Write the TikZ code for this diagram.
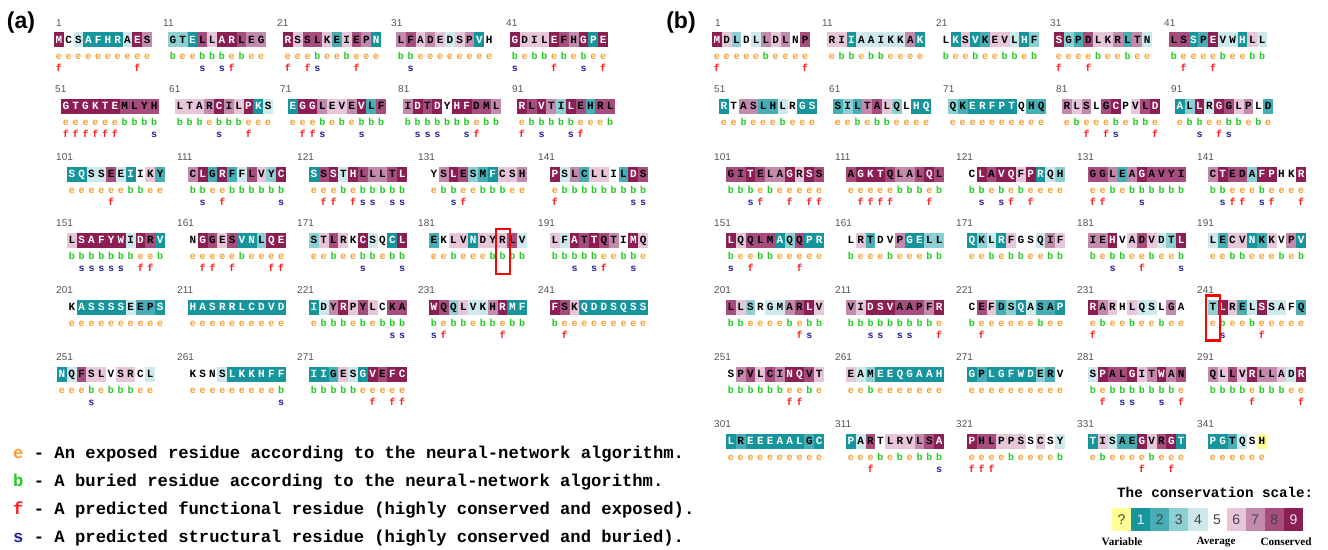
\documentclass[tikz,border=0pt]{standalone}
\usepackage{fontspec}
\setmainfont{Liberation Serif}
\newfontfamily\monofam{Liberation Mono}
\newfontfamily\sansfam{Liberation Sans}

% conservation grades 1 (variable) .. 9 (conserved), Y = insufficient data
\definecolor{g1}{HTML}{17959C}
\definecolor{g2}{HTML}{47AEB5}
\definecolor{g3}{HTML}{8DD0D4}
\definecolor{g4}{HTML}{CDE9EC}
\definecolor{g5}{HTML}{FFFFFF}
\definecolor{g6}{HTML}{E6C6D8}
\definecolor{g7}{HTML}{C48AAE}
\definecolor{g8}{HTML}{A64D7E}
\definecolor{g9}{HTML}{8B1E52}
\definecolor{gY}{HTML}{FFFF96}
% letter colour on each grade
\colorlet{t1}{white}\colorlet{t2}{black}\colorlet{t3}{black}\colorlet{t4}{black}
\colorlet{t5}{black}\colorlet{t6}{black}\colorlet{t7}{black}\colorlet{t8}{black}
\colorlet{t9}{white}\colorlet{tY}{black}
% digit colour on the scale
\definecolor{s1}{HTML}{E4F2F2}\definecolor{s9}{HTML}{F0E0E8}
\definecolor{sdark}{HTML}{444444}
\colorlet{s2}{sdark}\colorlet{s3}{sdark}\colorlet{s4}{sdark}\colorlet{s5}{sdark}
\colorlet{s6}{sdark}\colorlet{s7}{sdark}\colorlet{s8}{sdark}\colorlet{sY}{sdark}
% exposed / buried / functional / structural marks
\definecolor{ce}{HTML}{F7A030}
\definecolor{cb}{HTML}{22CC22}
\definecolor{cf}{HTML}{FF1A1A}
\definecolor{cs}{HTML}{22229A}
\definecolor{numgray}{HTML}{555555}

\tikzset{
  resl/.style={font=\monofam\bfseries\fontsize{11}{11}\selectfont,inner sep=0pt,
    text height=6.6pt,text depth=0pt,anchor=center},
  markl/.style={font=\monofam\bfseries\fontsize{10}{10}\selectfont,inner sep=0pt,
    text height=5.2pt,text depth=0pt,anchor=center},
  numlab/.style={font=\sansfam\fontsize{10}{10}\selectfont,text=numgray,inner sep=0pt,
    text height=7.2pt,text depth=0pt,anchor=west},
  panellab/.style={font=\sansfam\bfseries\fontsize{23}{23}\selectfont,inner sep=0pt},
  legline/.style={font=\monofam\bfseries\fontsize{17.2}{17.2}\selectfont,inner sep=0pt,
    text height=10pt,text depth=0pt,anchor=west},
  hilite/.style={draw=red,line width=2.2pt},
}

% one residue: letter, grade, e/b, f/s/-
\def\resitem#1#2#3#4\relax{%
  \pgfmathsetmacro\cx{\bx+\i*9.8+4.9}%
  \fill[g#2] (\cx-5.0,\by+9.5) rectangle (\cx+5.0,\by+24.5);%
  \node[resl,text=t#2] (\bid-\i) at (\cx,\by+17) {#1};%
  \node[markl,text=c#3] (\bid-eb\i) at (\cx,\by+34) {#3};%
  \if#4-\else\node[markl,text=c#4] (\bid-fs\i) at (\cx,\by+46) {#4};\fi
}
% a block of ten: id, label x, first cell x, row y, number, residues
\newcommand\blk[6]{%
  \node[numlab] (#1) at (#2,#4) {#5};%
  \def\bid{#1}\def\bx{#3}\def\by{#4}%
  \foreach \t [count=\i from 0] in {#6} {\expandafter\resitem\t\relax}%
}

\begin{document}
\begin{tikzpicture}[x=1pt,y=-1pt]
\fill[white] (0,0) rectangle (1328,549);
\useasboundingbox (0,0) rectangle (1328,549);

\node[panellab] (pa) at (21,23) {(a)};
\node[panellab] (pb) at (681,23) {(b)};

% ---------------- panel (a) ----------------
\blk{a1}{56}{54}{22.7}{1}{M9ef,C5e-,S4e-,A1e-,F1e-,H1e-,R1e-,A4e-,E9ef,S7e-}
\blk{a11}{163}{168}{22.7}{11}{G3b-,T3e-,E1e-,L8bs,L6b-,A9bs,R9ef,L8b-,E7e-,G7e-}
\blk{a21}{277}{283}{22.7}{21}{R9ef,S6e-,S8ef,L8bs,K6e-,E2e-,I6b-,E8ef,P7e-,N1e-}
\blk{a31}{391}{396}{22.7}{31}{L7b-,F8bs,A6e-,D7e-,E6e-,D4e-,S6e-,P7e-,V1e-,H5e-}
\blk{a41}{506}{510}{22.7}{41}{G9bs,D6e-,I6b-,L6b-,E9ef,F8b-,H7e-,G9bs,P1e-,E9ef}

\blk{a51}{55}{61}{89.3}{51}{G9ef,T9ef,G9ef,K9ef,T9ef,E9ef,M8b-,L8b-,Y8b-,H8bs}
\blk{a61}{169}{175}{89.3}{61}{L6b-,T6b-,A6b-,R7e-,C9bs,I7b-,L6b-,P9ef,K1e-,S4e-}
\blk{a71}{280}{288}{89.3}{71}{E1e-,G9ef,G9ef,L7bs,E6e-,V6b-,E7e-,V9bs,L2b-,F8b-}
\blk{a81}{398}{403}{89.3}{81}{I7b-,D9bs,T8bs,D9bs,Y5b-,H9b-,F9bs,D8ef,M8b-,L7b-}
\blk{a91}{512}{517}{89.3}{91}{R9ef,L8b-,V9bs,T7b-,I3b-,L9bs,E8ef,H2e-,R8e-,L8b-}

\blk{a101}{56}{67}{157}{101}{S1e-,Q1e-,S4e-,S4e-,E8ef,E4e-,I1b-,I5b-,K6e-,Y2e-}
\blk{a111}{177}{188}{157}{111}{C7b-,L9bs,G2e-,R9ef,F2b-,F4b-,L8b-,V6b-,Y3b-,C9bs}
\blk{a121}{297}{309}{157}{121}{S1e-,S8ef,S9ef,T4b-,H9ef,L8bs,L7bs,L7b-,T8bs,L9bs}
\blk{a131}{418}{429}{157}{131}{Y5e-,S7b-,L9bs,E8ef,S3e-,M2b-,F1b-,C6b-,S6e-,H7e-}
\blk{a141}{538}{550}{157}{141}{P9ef,S4b-,L7b-,C2b-,L6b-,L6b-,I5b-,L2b-,D9bs,S8bs}

\blk{a151}{56}{67}{223.3}{151}{L6b-,S9bs,A9bs,F9bs,Y9bs,W9bs,I4b-,D9ef,R8ef,V1b-}
\blk{a161}{177}{188}{223.3}{161}{N5e-,G9ef,G8ef,E6e-,S8ef,V1b-,N1e-,L3e-,Q9ef,E9ef}
\blk{a171}{297}{309}{223.3}{171}{S3e-,T6e-,L8b-,R6e-,K5e-,C9bs,S4b-,Q5e-,C1b-,L9bs}
\blk{a181}{418}{429}{223.3}{181}{E2e-,K5e-,L6b-,V6e-,N1e-,D6e-,Y6b-,R6b-,L8b-,V4b-}
\blk{a191}{538}{550}{223.3}{191}{L6b-,F4b-,A9bs,T8b-,T9bs,Q8ef,T7e-,I5b-,M9bs,Q6e-}

\blk{a201}{56}{67}{290}{201}{K5e-,A1e-,S1e-,S1e-,S1e-,S1e-,E4e-,E2e-,P2e-,S1e-}
\blk{a211}{177}{188}{290}{211}{H1e-,A1e-,S1e-,R1e-,R1e-,L1e-,C1e-,D1e-,V1e-,D1e-}
\blk{a221}{297}{309}{290}{221}{I1e-,D4b-,Y7b-,R9b-,P6e-,Y8b-,L6e-,C5b-,K8bs,A8bs}
\blk{a231}{418}{429}{290}{231}{W9bs,Q8ef,Q3b-,L6b-,V4e-,K4b-,H7b-,R9ef,M1b-,F1b-}
\blk{a241}{538}{550}{290}{241}{F9b-,S8ef,K6e-,Q1e-,D1e-,D1e-,S1e-,Q1e-,S1e-,S1e-}

\blk{a251}{56}{57}{357}{251}{N1e-,Q4e-,F8e-,S6bs,L6e-,V5b-,S6b-,R6b-,C5e-,L4e-}
\blk{a261}{177}{188}{357}{261}{K5e-,S5e-,N5e-,S4e-,L1e-,K1e-,K1e-,H1e-,F1e-,F1bs}
\blk{a271}{297}{309}{357}{271}{I1b-,I1b-,G2b-,E6b-,S4b-,G1e-,V9ef,E8e-,F9ef,C9ef}

\draw[hilite] (496,228.8) rectangle (510,273.8);

% legend
\node[legline] (leg-e) at (13,453) {\textcolor{ce}{e} - An exposed residue according to the neural-network algorithm.};
\node[legline] (leg-b) at (13,481) {\textcolor{cb}{b} - A buried residue according to the neural-network algorithm.};
\node[legline] (leg-f) at (13,509) {\textcolor{cf}{f} - A predicted functional residue (highly conserved and exposed).};
\node[legline] (leg-s) at (13,537) {\textcolor{cs}{s} - A predicted structural residue (highly conserved and buried).};

% ---------------- panel (b) ----------------
\blk{b1}{715}{712}{22.7}{1}{M9ef,D6e-,L3e-,D5e-,L4e-,L7b-,D6e-,L7e-,N5e-,P8ef}
\blk{b11}{822}{827}{22.7}{11}{R6e-,I6b-,I1b-,A4e-,A4b-,I4b-,K4e-,K4e-,A7e-,K1e-}
\blk{b21}{936}{941}{22.7}{21}{L5b-,K1e-,S6e-,V1b-,K2e-,E6e-,V6b-,L4b-,H1e-,F3b-}
\blk{b31}{1050}{1054}{22.7}{31}{S9ef,G3e-,P2e-,D8ef,L6b-,K6e-,R7e-,L2b-,T7e-,N4e-}
\blk{b41}{1164}{1169}{22.7}{41}{L8b-,S8ef,S1e-,P2e-,E9ef,V4b-,W4e-,H1e-,L6b-,L4b-}

\blk{b51}{714}{719}{89.3}{51}{R1e-,T5e-,A7b-,S7e-,L2e-,H2e-,L4b-,R5e-,G1e-,S1e-}
\blk{b61}{829}{833}{89.3}{61}{S2e-,I3e-,L2b-,T7e-,A8b-,L6b-,Q3e-,L5e-,H1e-,Q1e-}
\blk{b71}{943}{948}{89.3}{71}{Q3e-,K2e-,E1e-,R1e-,F1e-,P1e-,T1e-,Q5e-,H2e-,Q2e-}
\blk{b81}{1056}{1062}{89.3}{81}{R7e-,L6b-,S7ef,L5e-,G8ef,C9bs,P5e-,V6b-,L8b-,D9ef}
\blk{b91}{1171}{1175}{89.3}{91}{A1e-,L3b-,L9bs,R4e-,G9ef,G8bs,L6b-,P7e-,L5b-,D2e-}

\blk{b101}{714}{726}{157}{101}{G8b-,I8b-,T9bs,E8ef,L7b-,A7e-,G9ef,R6e-,S9ef,S8ef}
\blk{b111}{835}{846}{157}{111}{A8e-,G9ef,K9ef,T9ef,Q8ef,L7b-,A7b-,L8b-,Q9ef,L8b-}
\blk{b121}{956}{967}{157}{121}{C5b-,L9bs,A8e-,V9bs,Q9ef,F6b-,P9ef,R1e-,Q4e-,H3e-}
\blk{b131}{1077}{1088}{157}{131}{G8ef,G8ef,L7b-,E2e-,A7b-,G9bs,A8b-,V8b-,Y8b-,I8b-}
\blk{b141}{1197}{1208}{157}{141}{C7b-,T9bs,E8ef,D8ef,A3e-,F9bs,P9ef,H5e-,K5e-,R9ef}

\blk{b151}{714}{726}{223.3}{151}{L9bs,Q6e-,Q8ef,L8b-,M8b-,A1e-,Q3e-,Q8ef,P1e-,R1e-}
\blk{b161}{835}{846}{223.3}{161}{L5b-,R6e-,T2e-,D5e-,V5b-,P7e-,G1e-,E1e-,L3b-,L3b-}
\blk{b171}{956}{967}{223.3}{171}{Q1e-,K3e-,L4b-,R1e-,F6b-,G5b-,S5e-,Q4e-,I7b-,F6b-}
\blk{b181}{1077}{1088}{223.3}{181}{I7b-,E7e-,H9bs,V5b-,A6e-,D8ef,V6b-,D4e-,T3e-,L9bs}
\blk{b191}{1197}{1208}{223.3}{191}{L4e-,E2e-,C6b-,V6b-,N1e-,K2e-,K6e-,V5b-,P7e-,V1b-}

\blk{b201}{714}{726}{290}{201}{L8b-,L6b-,S3e-,R5e-,G4e-,M4e-,A7b-,R8ef,L9bs,V6b-}
\blk{b211}{835}{846}{290}{211}{V7b-,I6b-,D9bs,S9bs,V9b-,A8bs,A8bs,P8b-,F7b-,R9ef}
\blk{b221}{956}{967}{290}{221}{C5b-,E8ef,F6e-,D2e-,S3e-,Q1e-,A4e-,S2b-,A2e-,P1e-}
\blk{b231}{1077}{1088}{290}{231}{R9ef,A7b-,R6e-,H5e-,L6b-,Q4e-,S4e-,L5b-,G7e-,A5e-}
\blk{b241}{1197}{1208}{290}{241}{T3e-,L9bs,R6e-,E2e-,L4b-,S9ef,S4e-,A4e-,F5e-,Q2e-}

\blk{b251}{714}{726}{357}{251}{S5b-,P7b-,V8b-,L6b-,C8b-,I7b-,N9ef,Q9ef,V8b-,T6e-}
\blk{b261}{835}{846}{357}{261}{E6e-,A4e-,M3b-,E1e-,E1e-,Q1e-,G1e-,A1e-,A1e-,H1e-}
\blk{b271}{956}{967}{357}{271}{G1e-,P2e-,L1e-,G1e-,F1e-,W1e-,D1e-,E3e-,R2e-,V5e-}
\blk{b281}{1077}{1088}{357}{281}{S4b-,P9ef,A8b-,L8bs,G9bs,I6b-,T7b-,W9bs,A7b-,N8ef}
\blk{b291}{1197}{1208}{357}{291}{Q7b-,L6b-,L8b-,V6b-,R9ef,L7b-,L7b-,A6b-,D4e-,R9ef}

\blk{b301}{714}{726}{424}{301}{L1e-,R2e-,E1e-,E1e-,E1e-,A1e-,A1e-,L1e-,G2e-,C1e-}
\blk{b311}{835}{846}{424}{311}{P1e-,A4e-,R8ef,T5b-,L6e-,R6b-,V6e-,L7b-,S8b-,A9bs}
\blk{b321}{956}{967}{424}{321}{P9ef,H8ef,L8ef,P6e-,P6b-,S6e-,S5e-,C6e-,S5e-,Y4b-}
\blk{b331}{1077}{1088}{424}{331}{T1e-,I6b-,S4e-,A2e-,E2e-,G9ef,V6b-,R8e-,G9ef,T1e-}
\blk{b341}{1197}{1208}{424}{341}{P1e-,G1e-,T2e-,Q4e-,S5e-,HYe-}

\draw[hilite] (1206,295.5) rectangle (1219.6,340.5);

% conservation scale
\node[font=\monofam\bfseries\fontsize{14.2}{14.2}\selectfont,inner sep=0pt,anchor=west]
  (scaletitle) at (1117,492) {The conservation scale:};
\foreach \k/\c [count=\j from 0] in {?/Y,1/1,2/2,3/3,4/4,5/5,6/6,7/7,8/8,9/9} {
  \fill[g\c] (1112+\j*19.1,508) rectangle ++(19.2,23);
  \node[font=\sansfam\fontsize{14}{14}\selectfont,text=s\c,inner sep=0pt]
    (sc\j) at (1112+\j*19.1+9.55,519.5) {\k};
}
\node[font=\bfseries\fontsize{11.2}{11.2}\selectfont,inner sep=0pt] (var) at (1122,542) {Variable};
\node[font=\bfseries\fontsize{11.2}{11.2}\selectfont,inner sep=0pt] (avg) at (1216,542) {Average};
\node[font=\bfseries\fontsize{11.2}{11.2}\selectfont,inner sep=0pt] (con) at (1286,542) {Conserved};
\end{tikzpicture}
\end{document}
